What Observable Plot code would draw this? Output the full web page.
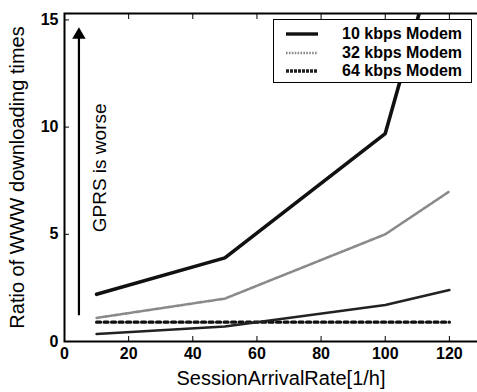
<!DOCTYPE html>
<html><head><meta charset="utf-8">
<script src="https://cdn.jsdelivr.net/npm/d3@7"></script>
<script src="https://cdn.jsdelivr.net/npm/@observablehq/plot@0.6"></script>
<style>
body{margin:0;background:#fff;}
#wrap{position:relative;width:477px;height:392px;overflow:hidden;font-family:"Liberation Sans",Arial,sans-serif;}
#legend{position:absolute;left:273px;top:19px;width:199px;height:64px;border:1.5px solid #000;background:#fff;box-sizing:border-box;}
#legend .row{position:absolute;left:0;height:18px;width:197px;}
#legend .row svg{position:absolute;left:11px;top:4px;}
#legend .row span{position:absolute;left:68px;top:0;line-height:18px;font-size:16px;font-weight:bold;color:#000;white-space:nowrap;}
</style></head>
<body><div id="wrap"><div id="legend"></div></div>
<script>
const rates = [10, 50, 100, 120];
const modem10 = [2.2, 3.9, 9.7, 20.3];
const modem32 = [1.1, 2.0, 5.0, 7.0];
const modem64 = [0.35, 0.7, 1.7, 2.4];
const refLine = [0.9, 0.9];
const refX = [10, 120];
const seriesNames = ["10 kbps Modem", "32 kbps Modem", "64 kbps Modem"];
const xTicks = [0, 20, 40, 60, 80, 100, 120];
const yTicks = [0, 5, 10, 15];
const xLabel = "SessionArrivalRate[1/h]";
const yLabel = "Ratio of WWW downloading times";
const arrowX = 4.5, arrowY1 = 1.2, arrowY2 = 14.2, arrowHeadY = 14.3;
const noteText = "GPRS is worse";
const noteX = 11, noteY = 8.1;

const rows = (ys) => rates.map((r, i) => ({x: r, y: ys[i]}));
const styles = [
  {stroke: "#111", strokeWidth: 3.6},
  {stroke: "#8a8a8a", strokeWidth: 2.6, strokeDasharray: "1.6,1.3"},
  {stroke: "#222", strokeWidth: 2.6}
];
const font = "Liberation Sans, Arial, sans-serif";

const plot = Plot.plot({
  width: 477, height: 392,
  marginLeft: 64, marginRight: -20, marginTop: 13, marginBottom: 51,
  style: {fontFamily: font, fontSize: "16px", fontWeight: "bold", color: "#000", background: "#fff"},
  x: {domain: [0, 135]},
  y: {domain: [0, 15.3]},
  marks: [
    Plot.frame({stroke: "#000", strokeWidth: 2}),
    Plot.axisX({ticks: xTicks, anchor: "top", tickSize: -5, label: null, tickFormat: () => ""}),
    Plot.axisX({ticks: xTicks, tickSize: -5, tickPadding: 11, fontSize: 16, fontWeight: "bold", label: null}),
    Plot.axisY({ticks: yTicks, tickSize: -5, tickPadding: 11, fontSize: 16, fontWeight: "bold", label: null}),
    Plot.text([xLabel], {frameAnchor: "bottom", dy: 37, text: d => d, fontSize: 20, fontWeight: "normal", fill: "#000", lineAnchor: "middle", textAnchor: "middle"}),
    Plot.text([yLabel], {frameAnchor: "left", dx: -47, dy: 0, rotate: -90, text: d => d, fontSize: 20, fontWeight: "normal", fill: "#000", lineAnchor: "middle", textAnchor: "middle"}),
    Plot.line(refX.map((x, i) => ({x, y: refLine[i]})), {x: "x", y: "y", stroke: "#111", strokeWidth: 3.2, strokeDasharray: "4,3.5"}),
    Plot.line(rows(modem64), {x: "x", y: "y", ...styles[2]}),
    Plot.line(rows(modem32), {x: "x", y: "y", ...styles[1]}),
    Plot.line(rows(modem10), {x: "x", y: "y", ...styles[0], clip: true}),
    Plot.ruleX([arrowX], {y1: arrowY1, y2: arrowY2, stroke: "#000", strokeWidth: 2.2}),
    Plot.dot([arrowX], {x: d => d, y: arrowHeadY, symbol: "triangle", r: 5, fill: "#000", stroke: null}),
    Plot.text([noteText], {x: noteX, y: noteY, text: d => d, rotate: -90, fontSize: 19, fontWeight: "normal", fill: "#000"})
  ]
});
const wrap = document.getElementById("wrap");
wrap.prepend(plot);

const leg = document.getElementById("legend");
seriesNames.forEach((name, i) => {
  const row = document.createElement("div");
  row.className = "row";
  row.style.top = (5 + i * 18.5) + "px";
  const s = styles[i];
  const dash = s.strokeDasharray ? `stroke-dasharray="${s.strokeDasharray}"` : (i === 2 ? 'stroke-dasharray="3,1"' : "");
  row.innerHTML = `<svg width="34" height="10"><line x1="1" x2="33" y1="5" y2="5" stroke="${s.stroke}" stroke-width="${i===1?2.6:3.4}" ${dash}/></svg><span>${name}</span>`;
  leg.appendChild(row);
});
</script></body></html>
